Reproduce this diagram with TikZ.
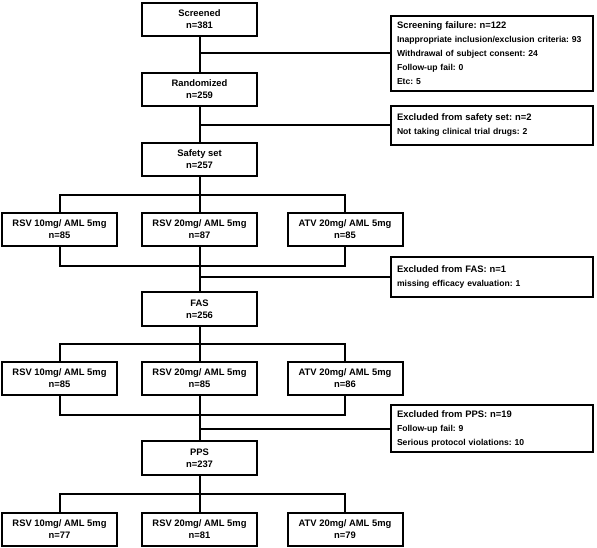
\documentclass[tikz,border=0pt]{standalone}
\usepackage{fontspec}
\setmainfont{Liberation Sans}
\usepackage{tikz}
\frenchspacing

\begin{document}
\begin{tikzpicture}[x=1pt, y=-1pt, line width=2pt,
  mainbox/.style={draw, anchor=center, align=center, minimum width=115, minimum height=33,
    inner sep=1pt, font=\fontsize{9.4}{12}\selectfont\bfseries},
  sidebox/.style={draw, anchor=center, align=left, text width=190, inner xsep=6pt,
    inner ysep=1pt, font=\fontsize{8.6}{14}\selectfont\bfseries}]
\useasboundingbox (0,0) rectangle (597,548);

\node[mainbox] (1) at (199.5,19.5)
{Screened\\n=381};

\node[sidebox, minimum height=75] (2) at (492,53.5)
{{\fontsize{9.4}{14}\selectfont Screening failure: n=122}\\
Inappropriate inclusion/exclusion criteria: 93\\
Withdrawal of subject consent: 24\\
Follow-up fail: 0\\
Etc: 5};

\node[mainbox] (3) at (199.5,89.5)
{Randomized\\n=259};

\node[sidebox, minimum height=39] (4) at (492,125.5)
{{\fontsize{9.4}{14}\selectfont Excluded from safety set: n=2}\\
Not taking clinical trial drugs: 2};

\node[mainbox] (5) at (199.5,159.5)
{Safety set\\n=257};

\node[mainbox] (6) at (59.5,229.5)
{RSV 10mg/ AML 5mg\\n=85};

\node[mainbox] (7) at (199.5,229.5)
{RSV 20mg/ AML 5mg\\n=87};

\node[mainbox] (8) at (345,229.5)
{ATV 20mg/ AML 5mg\\n=85};

\node[sidebox, minimum height=40] (9) at (492,277)
{{\fontsize{9.4}{14}\selectfont Excluded from FAS: n=1}\\
missing efficacy evaluation: 1};

\node[mainbox, minimum height=34] (10) at (199.5,309)
{FAS\\n=256};

\node[mainbox] (11) at (59.5,378.5)
{RSV 10mg/ AML 5mg\\n=85};

\node[mainbox] (12) at (199.5,378.5)
{RSV 20mg/ AML 5mg\\n=85};

\node[mainbox] (13) at (345,378.5)
{ATV 20mg/ AML 5mg\\n=86};

\node[sidebox, minimum height=47] (14) at (492,428.5)
{{\fontsize{9.4}{14}\selectfont Excluded from PPS: n=19}\\
Follow-up fail: 9\\
Serious protocol violations: 10};

\node[mainbox, minimum height=34] (15) at (199.5,458)
{PPS\\n=237};

\node[mainbox] (16) at (59.5,529.5)
{RSV 10mg/ AML 5mg\\n=77};

\node[mainbox] (17) at (199.5,529.5)
{RSV 20mg/ AML 5mg\\n=81};

\node[mainbox] (18) at (345,529.5)
{ATV 20mg/ AML 5mg\\n=79};

\coordinate (s1) at (199.5,195);
\coordinate (j1) at (199.5,265.5);
\coordinate (s2) at (199.5,344);
\coordinate (j2) at (199.5,415);
\coordinate (s3) at (199.5,494);

\draw (1) -- (3);
\draw (1.south |- 2.west) -- (2.west);
\draw (3) -- (5);
\draw (3.south |- 4.west) -- (4.west);

\draw (5) -- (7);
\draw (6.north) |- (s1) -| (8.north);

\draw (7) -- (10);
\draw (6.south) |- (j1) -| (8.south);
\draw (10.north |- 9.west) -- (9.west);

\draw (10) -- (12);
\draw (11.north) |- (s2) -| (13.north);

\draw (12) -- (15);
\draw (11.south) |- (j2) -| (13.south);
\draw (15.north |- 14.west) -- (14.west);

\draw (15) -- (17);
\draw (16.north) |- (s3) -| (18.north);
\end{tikzpicture}
\end{document}
